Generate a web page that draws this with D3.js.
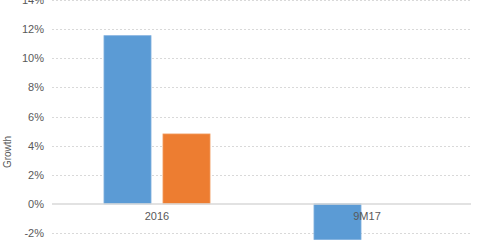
<!DOCTYPE html>
<html lang="en">

<head>
  <meta charset="UTF-8">
  <title>Growth</title>
  <script src="https://d3js.org/d3.v7.min.js"></script>
  <style>
    body {
      margin: 0;
      background: #fff;
    }

    text {
      font-family: "Liberation Sans", Arial, sans-serif;
      fill: #595959;
    }
  </style>
</head>

<body>
  <div id="chart"></div>

  <script>
    const categories = ["2016", "9M17"];
    const seriesBlue = [11.55, -2.45];
    const seriesOrange = [4.8, null];
    const yTicks = [-2, 0, 2, 4, 6, 8, 10, 12, 14];
    const yTitle = "Growth";

    const width = 480;
    const height = 251;

    const svg = d3.select("#chart")
      .append("svg")
      .attr("width", width)
      .attr("height", height);

    const y = d3.scaleLinear()
      .domain([-2, 14])
      .range([233, 0]);

    const x0 = d3.scaleBand()
      .domain(categories)
      .range([52, 472]);

    const x1 = d3.scaleBand()
      .domain(["blue", "orange"])
      .range([0, x0.bandwidth()])
      .paddingInner(0.203)
      .paddingOuter(0.881);

    // gridlines
    svg.append("g")
      .selectAll("line")
      .data(yTicks.filter(d => d !== 0))
      .enter()
      .append("line")
      .attr("x1", 52)
      .attr("x2", 471)
      .attr("y1", d => Math.round(y(d)) + 0.5)
      .attr("y2", d => Math.round(y(d)) + 0.5)
      .attr("stroke", "#d9d9d9")
      .attr("stroke-dasharray", "2,2");

    // y axis labels
    const yAxis = svg.append("g")
      .attr("transform", "translate(44,0)")
      .call(d3.axisLeft(y).tickValues(yTicks).tickSize(0).tickPadding(0)
        .tickFormat(d => d + "%"));
    yAxis.select(".domain").remove();
    yAxis.selectAll("text")
      .style("font-family", "Liberation Sans, Arial, sans-serif")
      .style("font-size", "11px")
      .attr("fill", "#595959");

    const data = categories.map((c, i) => ({
      cat: c,
      vals: [
        { key: "blue", value: seriesBlue[i], color: "#5b9bd5" },
        { key: "orange", value: seriesOrange[i], color: "#ed7d31" }
      ]
    }));

    // bars
    svg.append("g")
      .selectAll("g")
      .data(data)
      .enter()
      .append("g")
      .attr("transform", d => `translate(${x0(d.cat)},0)`)
      .selectAll("rect")
      .data(d => d.vals.filter(v => v.value !== null))
      .enter()
      .append("rect")
      .attr("x", d => x1(d.key))
      .attr("y", d => y(Math.max(0, d.value)))
      .attr("width", x1.bandwidth())
      .attr("height", d => Math.abs(y(d.value) - y(0)))
      .attr("fill", d => d.color)
      .attr("stroke", d => d.key === "blue" ? "#7fb0de" : "#f19a5e")
      .attr("stroke-width", 0.8);

    // zero line
    svg.append("line")
      .attr("x1", 52)
      .attr("x2", 471)
      .attr("y1", y(0))
      .attr("y2", y(0))
      .attr("stroke", "#d9d9d9")
      .attr("stroke-width", 1.5);

    // category labels
    svg.append("g")
      .selectAll("text")
      .data(categories)
      .enter()
      .append("text")
      .attr("x", d => x0(d) + x0.bandwidth() / 2)
      .attr("y", 220)
      .attr("text-anchor", "middle")
      .style("font-size", "11px")
      .text(d => d);

    // axis title
    svg.append("text")
      .attr("transform", "translate(11,152) rotate(-90)")
      .attr("text-anchor", "middle")
      .style("font-size", "10px")
      .text(yTitle);
  </script>
</body>

</html>
